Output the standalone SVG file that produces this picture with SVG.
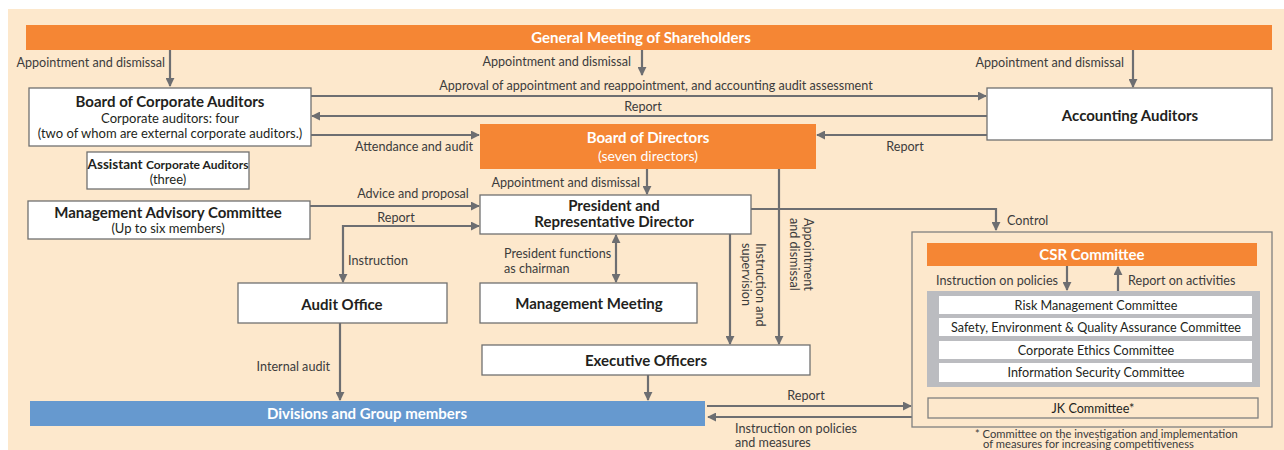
<svg xmlns="http://www.w3.org/2000/svg" width="1284" height="450" viewBox="0 0 1284 450">
<defs>
<marker id="ah" viewBox="0 0 10 10" refX="9" refY="5" markerWidth="9" markerHeight="9" markerUnits="userSpaceOnUse" orient="auto-start-reverse"><path d="M0,0 L10,5 L0,10 z" fill="#6d6e71"/></marker>
</defs>
<style>
text{font-family:"Lato","Liberation Sans",sans-serif;}
.bg{fill:#fde8cc;}
.or{fill:#f58634;}
.bx{fill:#ffffff;stroke:#707070;stroke-width:1.3;}
.ob{fill:none;stroke:#808080;stroke-width:1.3;}
.ln{fill:none;stroke:#6d6e71;stroke-width:2.2;}
.a{marker-end:url(#ah);}
.s{marker-start:url(#ah);}
.lb{font-size:12.6px;fill:#3c3c3c;}
.fn{font-size:11.2px;fill:#3c3c3c;}
.t{font-size:15px;font-weight:bold;fill:#231f20;text-anchor:middle;}
.st{font-size:13px;fill:#231f20;text-anchor:middle;}
.wt{font-size:15px;font-weight:bold;fill:#ffffff;text-anchor:middle;}
.ws{font-size:14px;fill:#ffffff;text-anchor:middle;}
.ct{font-size:12.6px;fill:#231f20;text-anchor:middle;}
.m{text-anchor:middle;}
.e{text-anchor:end;}
</style>
<rect class="bg" x="8" y="9" width="1276" height="441"/>

<g id="connectors">
<path class="ln a" d="M170,50 V86"/>
<path class="ln a" d="M642,50 V75"/>
<path class="ln a" d="M1133,50 V87"/>
<path class="ln a" d="M311,96 H986"/>
<path class="ln a" d="M987,116 H312"/>
<path class="ln a" d="M311,135 H479"/>
<path class="ln a" d="M987,135 H817"/>
<path class="ln a" d="M647,169 V194"/>
<path class="ln a" d="M779,169 V344"/>
<path class="ln a" d="M310,206 H479"/>
<path class="ln s a" d="M343,282 V226 H479"/>
<path class="ln s a" d="M616,235 V282"/>
<path class="ln a" d="M730,234 V344"/>
<path class="ln a" d="M751,209 H996 V230"/>
<path class="ln a" d="M340,323 V400"/>
<path class="ln a" d="M648,375 V400"/>
<path class="ln a" d="M707,406 H911"/>
<path class="ln a" d="M912,417 H708"/>
<path class="ln a" d="M1067,266 V290"/>
<path class="ln a" d="M1118,292 V267"/>
<text class="lb e" x="165" y="67">Appointment and dismissal</text>
<text class="lb e" x="631" y="66">Appointment and dismissal</text>
<text class="lb e" x="1124" y="67">Appointment and dismissal</text>
<text class="lb m" x="656" y="90">Approval of appointment and reappointment, and accounting audit assessment</text>
<text class="lb m" x="643" y="111">Report</text>
<text class="lb e" x="473" y="151">Attendance and audit</text>
<text class="lb m" x="905" y="151">Report</text>
<text class="lb e" x="640" y="187">Appointment and dismissal</text>
<text class="lb m" x="413" y="198">Advice and proposal</text>
<text class="lb m" x="396" y="222">Report</text>
<text class="lb" x="348" y="265">Instruction</text>
<text class="lb" x="504" y="258">President functions</text>
<text class="lb" x="504" y="273">as chairman</text>
<text class="lb" transform="translate(756,243) rotate(90)">Instruction and</text>
<text class="lb" transform="translate(742,243) rotate(90)">supervision</text>
<text class="lb" transform="translate(804,218) rotate(90)">Appointment</text>
<text class="lb" transform="translate(790,218) rotate(90)">and dismissal</text>
<text class="lb" x="1007" y="225">Control</text>
<text class="lb e" x="330" y="371">Internal audit</text>
<text class="lb m" x="806" y="400">Report</text>
<text class="lb" x="735" y="433">Instruction on policies</text>
<text class="lb" x="735" y="447">and measures</text>
<text class="lb e" x="1058" y="285">Instruction on policies</text>
<text class="lb" x="1128" y="285">Report on activities</text>
</g>

<g id="shareholders">
<rect class="or" x="26" y="25" width="1246" height="25"/>
<text class="wt" x="641" y="43">General Meeting of Shareholders</text>
</g>

<g id="corporate-auditors">
<rect class="bx" x="29" y="88" width="282" height="58"/>
<text class="t" x="170" y="107">Board of Corporate Auditors</text>
<text class="st" x="170" y="123">Corporate auditors: four</text>
<text class="st" x="170" y="138">(two of whom are external corporate auditors.)</text>
</g>

<g id="assistant">
<rect class="bx" x="87" y="152" width="162" height="37"/>
<text class="t" x="168" y="169"><tspan font-size="13.5">Assistant </tspan><tspan font-size="12">Corporate Auditors</tspan></text>
<text class="st" x="168" y="184">(three)</text>
</g>

<g id="accounting-auditors">
<rect class="bx" x="987" y="88" width="285" height="52"/>
<text class="t" x="1130" y="121">Accounting Auditors</text>
</g>

<g id="board-of-directors">
<rect class="or" x="480" y="124" width="336" height="45"/>
<text class="wt" x="648" y="143">Board of Directors</text>
<text class="ws" x="648" y="161">(seven directors)</text>
</g>

<g id="president">
<rect class="bx" x="480" y="195" width="271" height="39"/>
<text class="t" x="614" y="211">President and</text>
<text class="t" x="614" y="227">Representative Director</text>
</g>

<g id="advisory">
<rect class="bx" x="28" y="201" width="282" height="38"/>
<text class="t" x="168" y="218">Management Advisory Committee</text>
<text class="st" x="168" y="233">(Up to six members)</text>
</g>

<g id="audit-office">
<rect class="bx" x="238" y="283" width="209" height="40"/>
<text class="t" x="342" y="310">Audit Office</text>
</g>

<g id="management-meeting">
<rect class="bx" x="480" y="283" width="217" height="40"/>
<text class="t" x="589" y="309">Management Meeting</text>
</g>

<g id="executive-officers">
<rect class="bx" x="482" y="345" width="328" height="30"/>
<text class="t" x="646" y="366">Executive Officers</text>
</g>

<g id="divisions">
<rect x="30" y="401" width="675" height="25" fill="#6699cf"/>
<text class="wt" x="367" y="419">Divisions and Group members</text>
</g>

<g id="csr">
<rect class="ob" x="912" y="232" width="360" height="195"/>
<rect class="or" x="927" y="243" width="330" height="23"/>
<text class="wt" x="1092" y="260">CSR Committee</text>
<rect x="927" y="291" width="333" height="96" fill="#bbbcc0"/>
<rect x="939" y="296" width="313" height="18" fill="#ffffff"/>
<text class="ct" x="1096" y="309.5">Risk Management Committee</text>
<rect x="939" y="318" width="313" height="18" fill="#ffffff"/>
<text class="ct" x="1096" y="331.5">Safety, Environment &amp; Quality Assurance Committee</text>
<rect x="939" y="341" width="313" height="18" fill="#ffffff"/>
<text class="ct" x="1096" y="354.5">Corporate Ethics Committee</text>
<rect x="939" y="363" width="313" height="19" fill="#ffffff"/>
<text class="ct" x="1096" y="377">Information Security Committee</text>
<rect class="ob" x="928" y="398" width="330" height="20"/>
<text class="ct" x="1093" y="412.5">JK Committee*</text>
</g>

<g id="footnote">
<text class="fn" x="975" y="437.5">* Committee on the investigation and implementation</text>
<text class="fn" x="983" y="448">of measures for increasing competitiveness</text>
</g>
</svg>
